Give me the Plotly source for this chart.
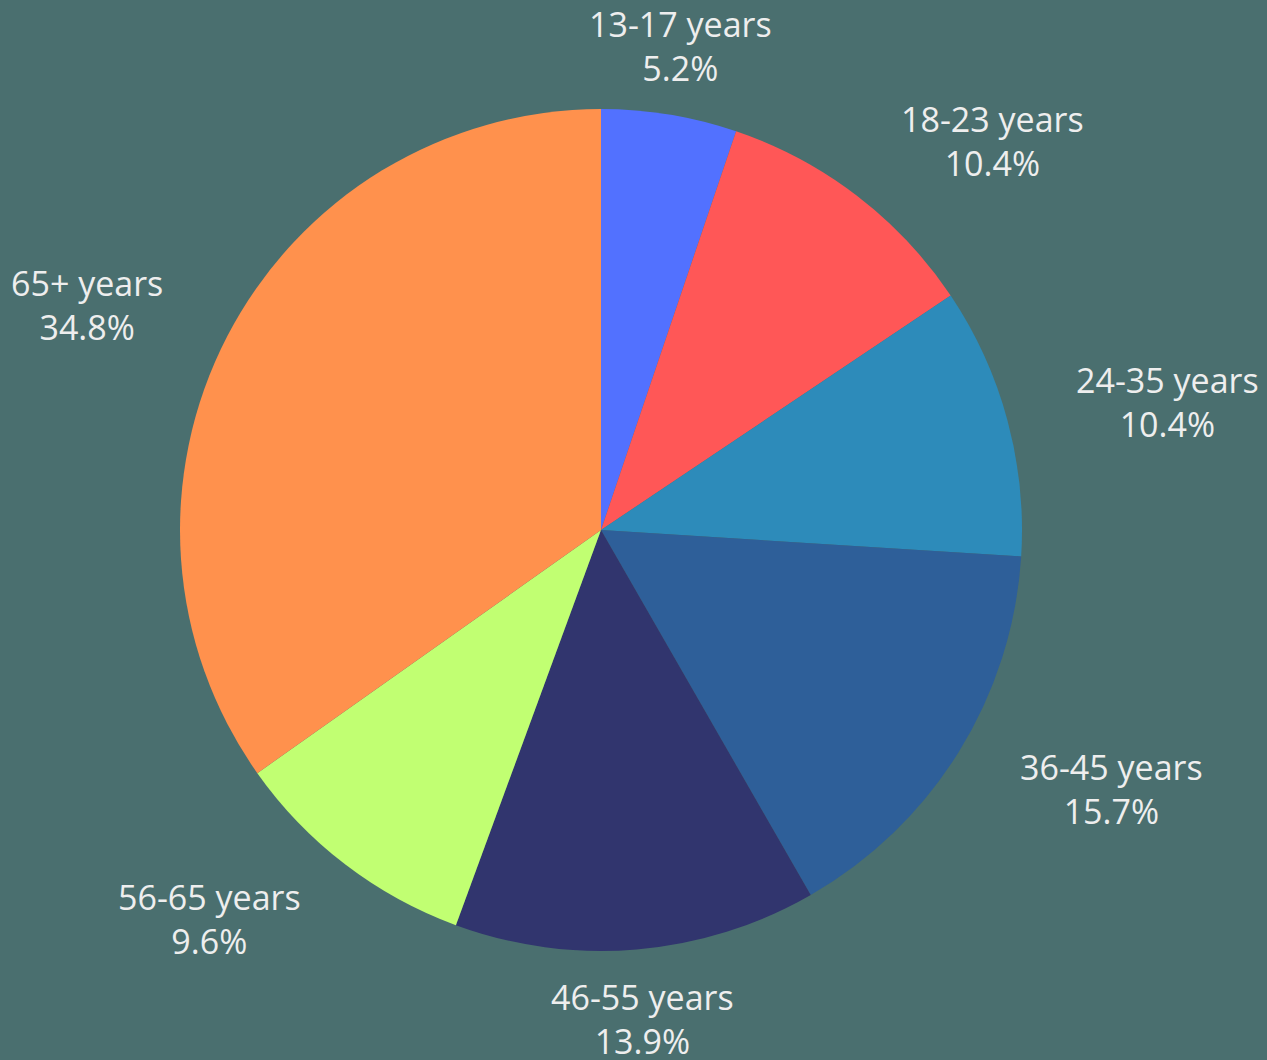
import math
import plotly.graph_objects as go

labels = ["13-17 years", "18-23 years", "24-35 years", "36-45 years",
          "46-55 years", "56-65 years", "65+ years"]
values = [5.2, 10.4, 10.4, 15.7, 13.9, 9.6, 34.8]
colors = ["#5271FF", "#FF5757", "#2D8BBA", "#2E5F99", "#31356E", "#C1FF72", "#FF914D"]

fig = go.Figure(go.Pie(
    labels=labels, values=values, sort=False, direction="clockwise", rotation=0,
    marker=dict(colors=colors, line=dict(width=0)),
    textinfo="none",
    showlegend=False, hoverinfo="label+value",
    domain=dict(x=[0, 1], y=[0, 1]),
))

# Outside labels placed along each slice's mid-angle
total = sum(values)
cum = 0.0
label_r = 0.5825  # in paper units (pie radius = 0.5)
for lab, v in zip(labels, values):
    mid = (cum + v / 2) / total * 2 * math.pi
    cum += v
    s, c = math.sin(mid), math.cos(mid)
    if abs(s) < 0.3:
        xa = "center"
    elif s > 0:
        xa = "left"
    else:
        xa = "right"
    fig.add_annotation(
        x=0.5 + label_r * s, y=0.5 + label_r * c, xref="paper", yref="paper",
        text=f"{lab}<br>{v:.1f}%", showarrow=False, xanchor=xa, yanchor="middle",
        align="center",
        font=dict(family="Open Sans", size=34, color="#EEEEEE"),
    )

fig.update_layout(
    width=1267, height=1060,
    paper_bgcolor="#4A6F6F", plot_bgcolor="#4A6F6F",
    margin=dict(l=180, r=245, t=109, b=109),
)
fig.write_html("out.html", config={"displayModeBar": False},
               post_script="document.body.style.margin='0';document.body.style.background='#4A6F6F';")
